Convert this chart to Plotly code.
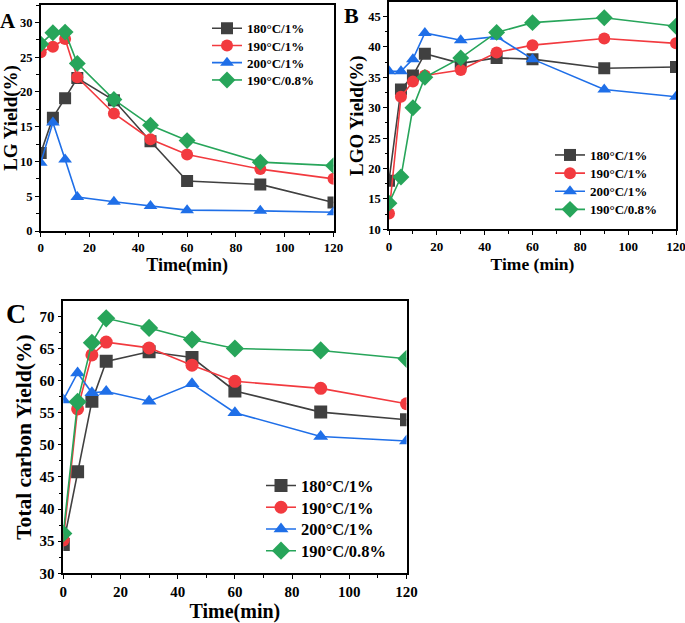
import plotly.graph_objects as go

time = [0, 5, 10, 15, 30, 45, 60, 90, 120]
series_names = ["180°C/1%", "190°C/1%", "200°C/1%", "190°C/0.8%"]

lg_180 = [11.2, 16.3, 19.1, 22.0, 18.8, 12.9, 7.2, 6.7, 4.1]
lg_190 = [25.7, 26.5, 27.6, 22.1, 16.9, 13.2, 11.0, 8.9, 7.5]
lg_200 = [9.8, 15.6, 10.3, 4.9, 4.2, 3.6, 3.0, 2.9, 2.7]
lg_190_08 = [26.9, 28.5, 28.6, 24.1, 18.9, 15.2, 13.0, 9.9, 9.4]

lgo_180 = [18.0, 33.0, 35.3, 38.9, 37.3, 38.2, 38.0, 36.5, 36.7]
lgo_190 = [12.6, 31.8, 34.3, 35.3, 36.2, 39.1, 40.3, 41.4, 40.6]
lgo_200 = [36.0, 36.0, 38.0, 42.3, 41.1, 41.7, 38.0, 33.0, 31.8]
lgo_190_08 = [14.3, 18.6, 30.0, 35.0, 38.2, 42.4, 44.0, 44.8, 43.4]

tc_180 = [34.5, 45.8, 56.8, 63.0, 64.5, 63.6, 58.4, 55.1, 53.9]
tc_190 = [35.2, 55.6, 64.0, 66.0, 65.1, 62.4, 59.9, 58.8, 56.4]
tc_200 = [57.0, 61.2, 58.1, 58.3, 56.8, 59.5, 55.0, 51.3, 50.6]
tc_190_08 = [36.2, 56.7, 65.9, 69.7, 68.2, 66.4, 65.0, 64.7, 63.4]

colors = ["#404040", "#f23a3f", "#1f6fe8", "#27a55a"]
symbols = ["square", "circle", "triangle-up", "diamond"]

FONT = "Liberation Serif"
W, H = 685, 623

fig = go.Figure()

# (data, xaxis, yaxis, marker size, legend left px, legend row centres px, legend font size)
panels = [
    ([lg_180, lg_190, lg_200, lg_190_08], "x", "y", 12, 207, [28.3, 45.5, 62.7, 80], 13),
    ([lgo_180, lgo_190, lgo_200, lgo_190_08], "x2", "y2", 12, 550, [155, 173.2, 191.3, 209.4], 13),
    ([tc_180, tc_190, tc_200, tc_190_08], "x3", "y3", 13, 261, [485.7, 507.5, 529.3, 551], 16.5),
]
legend_layouts = {}
n = 0
for data, xa, ya, ms, lx, rows, lfs in panels:
    for i, ys in enumerate(data):
        n += 1
        lid = "legend" if n == 1 else f"legend{n}"
        fig.add_trace(go.Scatter(
            x=time, y=ys, mode="lines+markers", name=series_names[i],
            xaxis=xa, yaxis=ya, legend=lid, cliponaxis=True, showlegend=True,
            line=dict(color=colors[i], width=1.6),
            marker=dict(symbol=symbols[i], size=ms if i != 3 else ms + 1, color=colors[i]),
        ))
        legend_layouts[lid] = dict(
            x=lx / W, y=1 - rows[i] / H, xanchor="left", yanchor="middle",
            bgcolor="rgba(0,0,0,0)", borderwidth=0,
            font=dict(family=FONT, size=lfs, color="black", weight="bold"))

def xaxis(domain, anchor, title, fs, tfs):
    return dict(domain=domain, anchor=anchor, range=[0, 120], tickvals=[0, 20, 40, 60, 80, 100, 120],
                automargin=False, ticklabeloverflow="allow",
                showline=True, linecolor="black", linewidth=1.5, mirror=True,
                ticks="outside", ticklen=4, tickwidth=1.2, tickcolor="black",
                minor=dict(dtick=10, ticks="outside", ticklen=2.5, tickcolor="black"),
                showgrid=False, zeroline=False,
                tickfont=dict(family=FONT, size=fs, color="black", weight="bold"),
                title=dict(text=title, font=dict(family=FONT, size=tfs, color="black", weight="bold"), standoff=2))

def yaxis(domain, anchor, rng, dtick, minor, title, fs, tfs, standoff):
    return dict(domain=domain, anchor=anchor, range=rng, dtick=dtick, tick0=0,
                automargin=False, ticklabeloverflow="allow",
                showline=True, linecolor="black", linewidth=1.5, mirror=True,
                ticks="outside", ticklen=4, tickwidth=1.2, tickcolor="black",
                minor=dict(dtick=minor, ticks="outside", ticklen=2.5, tickcolor="black"),
                showgrid=False, zeroline=False,
                tickfont=dict(family=FONT, size=fs, color="black", weight="bold"),
                title=dict(text=title, font=dict(family=FONT, size=tfs, color="black", weight="bold"), standoff=standoff))

def fx(a, b):
    return [a / W, b / W]
def fy(top, bottom):
    return [1 - bottom / H, 1 - top / H]

fig.update_layout(
    width=W, height=H, margin=dict(l=0, r=0, t=0, b=0, autoexpand=False),
    paper_bgcolor="white", plot_bgcolor="white", showlegend=True,
    xaxis=xaxis(fx(40.7, 333.5), "y", "Time(min)", 13, 18),
    yaxis=yaxis(fy(5, 231), "x", [0, 32.5], 5, 2.5, "LG Yield(%)", 12.5, 19, 2),
    xaxis2=xaxis(fx(389, 676), "y2", "Time (min)", 13, 17.5),
    yaxis2=yaxis(fy(2, 229.3), "x2", [10, 47.4], 5, 2.5, "LGO Yield(%)", 12.5, 19, 0),
    xaxis3=xaxis(fx(63.3, 406.5), "y3", "Time(min)", 15, 20),
    yaxis3=yaxis(fy(301, 573.3), "x3", [30, 72.4], 5, 2.5, "Total carbon Yield(%)", 15, 21.5, 2),
    annotations=[
        dict(text="A", x=-2 / W, y=1 - 7 / H, xref="paper", yref="paper", xanchor="left", yanchor="top",
             showarrow=False, font=dict(family=FONT, size=21, color="black", weight="bold")),
        dict(text="B", x=342 / W, y=1 - 1 / H, xref="paper", yref="paper", xanchor="left", yanchor="top",
             showarrow=False, font=dict(family=FONT, size=22, color="black", weight="bold")),
        dict(text="C", x=4 / W, y=1 - 296 / H, xref="paper", yref="paper", xanchor="left", yanchor="top",
             showarrow=False, font=dict(family=FONT, size=28, color="black", weight="bold")),
    ],
    **legend_layouts,
)

fig.write_html("out.html", config={"displayModeBar": False},
               post_script="document.body.style.margin='0';document.body.style.overflow='hidden';")
